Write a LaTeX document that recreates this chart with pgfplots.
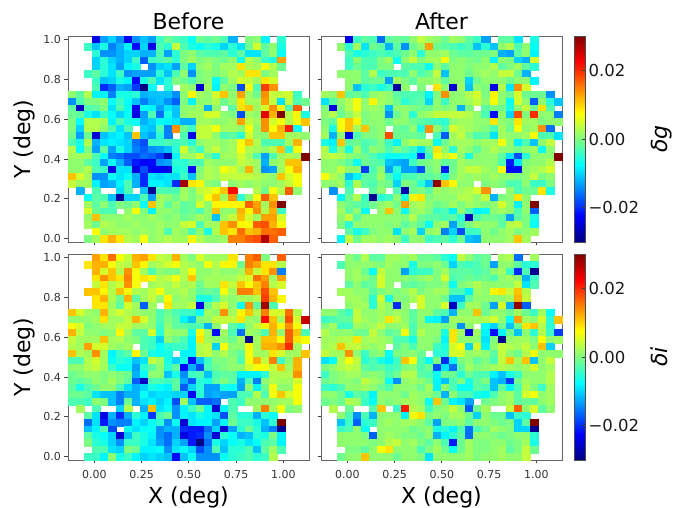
\documentclass[border=0pt]{standalone}
\usepackage{pgfplots}
\usepackage{pgfplotstable}
\usepackage{fontspec}
\setmainfont{DejaVu Sans}
\pgfplotsset{compat=1.18}
\pgfplotstableread[header=false]{
99 99 99 -24 -13 -10 -14 -23 -14 -11 -13 -4 -1 -3 -4 -7 -1 -2 -1 -3 -12 99 0 1 -8 99 -5 99 99 99
99 99 -4 -11 -6 -15 -12 -8 -22 -10 -24 -3 -5 4 -3 -6 -7 -5 -6 -10 -5 -9 -1 5 -2 1 -6 99 99 99
99 99 99 -5 -14 -14 -12 -10 -10 -12 -12 -3 -13 -5 0 1 -2 -3 -3 -2 -5 -2 -9 -9 -2 1 -7 99 99 99
99 99 99 -10 -5 -10 -12 -10 -4 -17 -4 -3 -2 -5 0 2 0 1 0 -1 1 -7 3 1 -4 -6 13 99 99 99
99 99 99 -10 -5 -9 -13 -8 -6 99 -14 -10 -9 -13 -2 -10 1 2 0 2 2 9 3 2 7 3 -1 99 99 99
99 99 -4 -2 -5 -9 -4 -14 -13 -13 -13 -5 -11 -3 1 -14 0 1 0 1 3 2 9 9 0 2 99 99 99 99
99 99 99 -4 -11 -10 -6 -8 -22 -6 -3 -9 -5 0 -1 -3 0 1 -7 -2 2 5 4 2 9 5 99 99 99 99
99 99 99 -3 -20 -17 -12 -13 -19 -30 -7 99 -5 99 2 1 -25 2 -8 1 0 -18 7 -3 19 14 99 99 99 99
1 -2 3 -8 -8 -15 -6 -6 -5 -12 -11 -11 -11 -14 1 8 2 1 5 11 1 13 2 -1 14 4 4 5 -4 99
-14 -3 0 0 1 -7 -4 -7 -11 -15 -12 -11 -14 -17 0 -8 1 1 3 -1 1 9 2 2 13 4 -9 4 -3 -1
-2 -26 -3 -2 0 -9 -3 -7 -23 -7 -8 -13 -9 -11 1 1 2 -12 1 99 -2 9 11 2 5 14 8 -3 17 99
-1 -2 -6 -9 -4 -7 -10 -7 -24 -13 -3 -16 -6 -11 1 2 2 5 5 1 0 -18 2 1 24 12 30 3 8 -6
0 -7 3 3 2 -8 -3 -6 -7 -12 -10 -7 -8 -9 -12 -12 2 2 1 1 2 13 4 2 14 5 7 3 7 11
0 -10 3 3 1 -3 -9 -3 99 -10 -11 -3 -15 14 -1 -4 4 4 7 2 2 1 7 1 14 7 12 21 -7 99
-1 -13 -1 -25 -11 -9 -8 -11 11 -11 -13 -5 -15 99 -3 -24 4 4 1 -3 -2 -5 5 1 1 11 11 2 2 1
-3 -6 3 -12 -9 -8 -9 -10 -16 -18 -4 -4 -3 -4 -3 -5 1 2 2 1 2 7 11 3 -3 -3 -3 2 12 99
3 -7 0 -13 -2 -13 -6 -10 -15 -17 -14 -13 -11 -5 5 -1 -4 2 4 1 2 7 3 2 1 3 11 -5 7 99
2 2 2 -3 -7 -15 -16 -18 -18 -16 -17 -19 -27 -8 2 2 5 -1 -5 2 2 5 2 -3 -13 -3 2 3 2 30
1 1 -2 -4 -13 -7 -12 -17 -21 -23 -22 -14 -13 -5 -5 -3 -3 2 1 1 1 4 3 2 -12 1 2 11 11 99
1 1 3 -3 -4 -24 -9 -9 -24 -18 -23 -23 -24 -6 -5 -22 0 3 2 7 5 2 12 2 -14 -13 2 7 12 99
11 5 2 -14 -14 -7 -9 -7 -12 -20 -9 -10 -9 -9 -4 -11 1 3 2 4 4 4 4 3 2 1 11 5 7 99
4 2 2 -8 -13 -12 -8 -3 -12 -20 -8 -8 -9 -20 28 9 8 1 0 99 1 2 1 2 1 1 2 4 7 99
99 -12 99 -3 99 99 -9 -3 99 -11 -29 -3 -3 -3 2 0 4 5 7 11 22 99 99 3 -1 7 3 17 1 99
99 99 -7 -2 -3 -11 -28 -10 -10 -3 -13 2 1 -1 2 0 2 7 11 2 14 -5 1 7 17 11 99 99 99 99
99 99 2 -2 1 -3 0 -1 1 -7 11 2 -2 1 -2 -1 5 1 8 8 8 8 17 13 2 14 30 99 99 99
99 99 5 -1 -3 -3 99 1 7 0 -8 1 1 0 -2 -1 -3 1 11 1 1 12 8 14 3 12 -4 99 99 99
99 99 1 11 1 1 1 2 1 1 2 1 0 1 -1 0 2 1 -11 2 4 11 5 2 13 13 5 99 99 99
99 99 2 -1 3 2 1 1 2 1 1 2 1 1 4 5 -3 2 2 11 14 8 7 17 18 12 7 99 99 99
99 99 99 7 1 2 2 2 1 2 1 2 -3 2 1 -3 1 -6 3 11 9 16 11 12 16 16 17 99 99 99
99 99 0 2 9 12 9 3 2 7 1 2 3 2 2 8 3 1 1 2 15 15 17 18 27 17 99 99 99 99
}\gb
\pgfplotstableread[header=false]{
99 99 99 -24 -4 -2 -3 -16 -2 -1 -2 1 4 2 1 -1 2 1 -2 -4 -13 99 -2 -2 -9 99 -6 99 99 99
99 99 1 -5 2 -9 -1 -2 -12 -2 -14 -1 1 13 -1 -2 -3 -4 -3 -11 -5 -11 1 3 -3 1 -7 99 99 99
99 99 99 -3 -6 -5 -4 -3 -4 -3 -1 1 -5 1 1 2 -1 -2 -2 -1 -1 0 -12 -13 -2 1 -8 99 99 99
99 99 99 -4 1 -3 -3 0 2 -7 1 4 0 2 2 7 0 1 0 -1 1 -8 1 0 -10 -12 5 99 99 99
99 99 99 -4 -1 -3 -3 0 0 99 -2 -3 -3 -7 1 -2 1 1 0 1 1 3 -2 0 2 -2 -5 99 99 99
99 99 1 1 1 -2 3 -4 -3 -3 -3 1 -3 -1 4 -11 1 1 -1 1 2 1 4 4 -1 -12 99 99 99 99
99 99 99 1 1 -2 -1 -1 -13 2 0 -2 1 1 2 -2 1 1 -10 -1 1 1 1 -1 1 1 -8 99 99 99
99 99 99 1 -11 -5 -4 -6 -4 -28 1 99 0 99 9 1 -25 2 -11 1 0 -24 3 -9 14 5 99 99 99 99
2 1 11 -2 -1 -3 1 2 1 -2 -3 -3 -3 -8 0 14 1 1 3 5 0 8 1 -1 5 -1 -1 -1 -14 99
-9 -2 1 3 7 1 8 2 1 -1 -5 -3 -2 -10 1 -4 1 1 2 4 1 7 1 -7 5 1 -17 1 -5 -11
0 -24 0 3 7 1 2 1 -11 1 1 0 -1 -1 1 0 1 -12 0 99 -2 0 -1 -6 1 4 -1 9 -3 99
1 3 -1 1 4 0 1 1 -14 -1 1 -5 1 2 4 4 4 4 3 1 -3 -22 1 -10 18 0 20 1 1 -15
0 -2 7 11 8 0 1 1 -1 1 1 -1 -2 -3 -4 -5 1 2 2 1 1 9 1 0 9 2 2 0 1 1
1 -6 7 11 2 11 0 1 99 -1 -2 1 -6 14 1 -3 5 3 2 1 0 -3 2 -1 7 1 2 14 -16 99
2 -12 1 -24 -3 0 0 1 18 -1 -1 -1 -2 99 -3 -17 2 4 0 -3 -2 -9 2 1 1 2 7 -3 -3 -9
-6 -8 11 -2 -1 -3 -2 0 -4 -8 1 3 2 2 -7 -1 2 2 2 1 2 2 7 1 -8 -3 -11 1 4 99
3 -6 1 -6 2 -3 1 0 -3 0 -2 -4 -9 -2 9 1 -5 2 1 -2 1 3 1 1 -1 1 2 -7 1 99
3 4 3 1 0 -1 -3 -5 -7 -7 -6 -7 -20 -4 7 4 7 1 -6 1 1 1 -2 -9 -18 -5 1 1 1 30
1 1 0 -2 -7 -1 -2 -3 -11 -12 -13 -4 -1 0 1 -2 -1 2 1 1 1 1 -3 -21 -9 0 1 1 3 99
1 1 4 1 1 -19 -3 1 -13 -5 -13 -13 -18 -1 1 -21 -1 2 4 4 2 1 7 -22 -22 1 2 3 5 99
7 3 1 -11 -8 -2 -2 2 -3 -7 -3 -3 -2 -2 -1 -5 0 2 1 2 1 2 1 1 0 1 4 0 1 99
1 1 2 -5 3 -2 -3 0 -1 -10 0 -1 -5 -11 29 11 8 1 1 99 0 1 0 -3 -3 1 -4 -4 0 99
99 -14 99 -3 99 99 -2 1 99 -3 -27 -1 0 -2 2 1 2 2 3 5 14 99 99 1 -3 -1 -1 9 -6 99
99 99 -8 -1 3 -4 -29 -5 -4 1 -6 8 9 0 1 1 1 3 3 1 4 -12 0 1 9 1 99 99 99 99
99 99 1 -1 -2 -3 -1 1 2 -1 13 2 3 1 -1 0 2 0 2 1 0 1 5 1 -8 1 30 99 99 99
99 99 2 -2 1 -7 99 1 11 1 -7 1 2 0 -4 -3 -8 1 -3 -8 -7 1 2 1 -3 1 -17 99 99 99
99 99 1 4 -2 1 1 1 1 1 0 3 -1 -2 -2 -3 -2 -5 -26 -3 -1 -1 -2 -13 -2 0 -6 99 99 99
99 99 0 -5 1 1 1 1 0 1 -2 0 -2 -7 1 2 -13 -3 0 2 1 1 -2 3 4 0 -7 99 99 99
99 99 99 -2 -6 -4 0 1 1 -9 1 2 -10 1 2 -15 -10 -18 -4 -4 1 -1 1 2 0 1 2 99 99 99
99 99 -8 4 -1 2 2 1 2 1 -4 1 1 -4 -3 -2 -5 -1 -11 -12 1 1 1 2 11 2 99 99 99 99
}\ga
\pgfplotstableread[header=false]{
99 99 99 13 9 16 7 4 12 13 9 4 3 12 2 0 5 2 2 2 9 99 15 17 0 99 17 99 99 99
99 99 9 12 12 7 4 3 11 8 2 3 5 7 3 2 1 7 3 8 8 -1 15 13 9 9 3 99 99 99
99 99 99 12 5 11 3 14 7 2 -3 1 0 0 3 7 1 1 2 1 1 2 12 4 9 14 -15 99 99 99
99 99 99 9 14 11 9 15 7 9 8 3 4 7 3 11 1 2 2 2 2 4 5 16 13 2 13 99 99 99
99 99 99 4 9 3 5 14 7 99 2 3 2 4 2 3 -1 2 2 9 4 11 7 11 15 3 5 99 99 99
99 99 11 11 8 3 11 7 3 2 4 7 2 2 3 1 -2 -1 -2 7 2 15 15 11 18 11 99 99 99 99
99 99 99 9 12 3 -1 12 -2 2 4 1 8 1 2 1 -6 -6 -3 2 1 2 2 3 19 12 8 99 99 99
99 99 99 9 9 2 -2 5 2 -17 2 99 9 2 2 4 -24 -1 3 5 1 -7 14 -2 28 -3 99 99 99 99
11 5 2 1 12 3 5 3 2 1 1 -3 -1 -3 -4 -4 -7 2 1 14 2 8 11 3 15 5 5 16 3 99
1 1 1 2 9 2 2 4 12 5 1 -3 0 -2 -8 -11 0 1 4 4 4 9 2 1 22 11 2 18 5 26
7 5 0 1 2 2 4 4 2 2 1 -4 1 -2 -2 -3 -3 -12 1 99 -2 -5 1 4 8 12 8 14 7 99
12 4 1 1 0 1 8 2 -2 -2 5 -5 2 1 1 -6 8 2 -22 2 -3 -16 2 1 -3 12 1 17 11 -3
4 2 2 2 11 2 3 1 0 -3 -4 -10 1 -1 -3 -8 9 2 1 1 -1 2 -29 2 11 11 7 17 9 7
3 2 13 5 5 2 1 2 99 -3 -4 -7 -5 -4 -4 -8 3 4 -10 7 1 1 8 2 12 12 14 20 2 99
11 3 2 14 2 -8 -4 -2 8 -1 -6 -7 -6 99 -8 -8 3 4 1 3 0 -2 7 2 2 9 5 2 2 11
-3 -3 3 5 2 -7 -5 -6 -11 -9 4 2 -6 -10 -6 -22 -11 -4 0 0 1 -3 7 12 4 15 -4 1 12 99
1 1 3 4 2 -4 -7 -7 -13 -5 -2 1 -5 -2 -22 -12 -18 -3 -1 0 1 1 5 7 7 4 11 2 12 99
-1 0 1 1 0 1 0 -1 -12 -7 1 1 -11 -6 -14 -4 -3 -11 -3 -2 -2 -8 -8 -8 -5 3 3 3 14 99
-1 -2 -1 1 0 2 0 -2 -17 -26 -3 -3 -4 -2 -12 -17 -5 -6 -2 0 -2 -12 -3 -15 1 3 2 2 5 99
-2 -6 -3 -1 1 1 -3 -9 -12 -10 -6 -7 -8 -2 -17 -10 -5 -13 -13 -6 -7 -13 1 -8 -1 7 1 1 7 99
-1 -1 -2 -9 -11 -11 -15 -12 -12 -7 -10 -9 -9 -10 -10 -23 -5 -13 -12 -13 -13 -3 -3 3 -3 7 11 5 7 99
-3 -3 -4 1 0 -11 -15 -1 -12 -9 -8 -10 -8 -18 2 -11 -17 -17 -16 99 -3 -4 1 1 1 1 2 2 7 99
99 2 99 -3 99 99 -10 3 99 -12 11 -9 -7 -14 -8 -4 -1 -8 -25 -8 -3 99 99 2 15 2 7 0 1 99
99 99 -2 -9 -24 -12 -20 -12 -5 -8 -19 -3 -1 -14 -8 -9 -6 -8 -9 -18 -2 -5 -5 -12 -5 -7 99 99 99 99
99 99 -16 -9 -21 -14 -15 -15 -8 -10 -7 -5 -14 -7 -25 -9 -8 -8 -13 -8 -1 -4 -4 -6 -11 -5 30 99 99 99
99 99 -11 -8 -3 -18 99 -7 -9 -7 -7 -14 -12 -12 -20 -21 -21 -16 -10 -25 -13 -5 -1 -5 -12 -15 -29 99 99 99
99 99 -2 -6 -7 -10 -25 -11 -4 -6 -8 -14 -16 -12 -24 -21 -20 -14 -25 -5 -7 -12 -11 -5 -6 0 -8 99 99 99
99 99 0 -5 -6 -10 -14 -4 -4 -6 -9 -13 -16 -10 -13 -21 -30 -16 -6 -10 -7 -6 -9 -7 -3 -2 -8 99 99 99
99 99 99 -3 -3 -9 -10 0 -1 -8 -8 -7 -14 -9 -7 -10 -18 -14 -3 -11 -5 -5 -3 -11 -2 2 -3 99 99 99
99 99 -4 -4 -8 1 -6 -4 -8 -10 -9 -10 -11 -22 -11 -7 -14 -14 -14 -7 -5 -4 -3 -5 -4 3 99 99 99 99
}\ib
\pgfplotstableread[header=false]{
99 99 99 1 -1 3 -2 -2 2 2 1 2 -1 -1 -2 -5 -7 4 1 -2 -1 99 2 3 -16 99 2 99 99 99
99 99 -3 1 1 1 1 0 2 1 1 -6 0 0 1 -1 -10 -3 -4 -3 -1 -13 1 1 -2 -5 -5 99 99 99
99 99 99 1 2 -1 -7 4 1 1 -13 -5 -4 -4 0 2 -2 -2 -2 -3 -2 1 2 -4 -20 -3 -29 99 99 99
99 99 99 1 2 1 -1 5 1 1 1 0 1 2 0 5 -3 -2 -1 -2 -1 -3 1 2 1 -12 -4 99 99 99
99 99 99 -2 1 -2 -1 5 1 99 -1 -2 -1 0 0 1 -7 0 1 3 1 1 1 1 4 -9 -3 99 99 99
99 99 2 2 1 1 -2 0 1 0 1 3 0 1 2 2 -3 -3 -8 2 1 8 9 4 11 3 99 99 99 99
99 99 99 2 2 1 -5 5 -6 1 0 2 5 1 1 -1 -11 -11 -2 1 1 1 1 2 12 4 99 99 99 99
99 99 99 1 2 2 -5 3 1 -20 1 99 5 1 1 5 -26 -4 2 2 -1 -13 5 -12 29 -17 99 99 99 99
1 1 -2 -4 4 1 1 2 1 2 1 -2 1 1 -2 -3 -12 1 1 11 -1 1 1 -1 2 -1 -4 2 -7 99
-4 -3 -2 -2 4 2 1 2 9 4 1 -2 1 -7 -8 -13 2 2 2 2 3 5 1 -7 13 2 1 5 -5 11
0 2 -4 -4 2 1 2 4 1 1 2 -3 1 1 1 0 1 -14 1 99 -7 -10 -1 -11 -1 9 11 3 -5 99
3 1 1 1 -1 -1 4 1 -2 -1 7 -3 3 1 1 -6 9 2 -24 2 -8 -22 -8 -1 -11 1 -5 3 -4 -19
2 2 3 3 9 2 3 2 1 -3 -3 -6 1 1 0 -8 9 1 1 1 -9 0 -29 1 2 2 0 7 1 2
2 3 11 4 4 2 1 2 99 -2 0 -3 1 1 -4 -6 5 7 -10 5 -8 1 4 3 2 4 1 11 -10 99
4 2 2 14 1 -4 0 1 -7 0 0 1 -1 99 -5 -5 5 5 1 2 1 -2 4 1 -1 3 7 1 1 1
-9 -7 3 7 4 -5 -3 -6 -8 -4 11 7 -3 -7 0 -20 -8 0 1 -2 0 -3 4 11 2 11 -11 1 4 99
0 1 3 4 3 -2 -3 -2 -4 -3 0 1 -3 -1 -18 -9 -16 -2 2 0 1 2 3 2 1 2 5 1 2 99
-4 0 1 2 2 0 1 0 -3 -1 3 3 -2 -3 -7 -1 -1 -5 -1 -3 -3 -8 -11 -6 -4 1 1 1 3 99
-1 0 1 1 0 4 2 1 -7 -14 1 2 1 -1 -8 -11 -3 0 -6 -2 0 -11 -12 -19 -1 2 1 1 3 99
-4 -5 -3 1 1 2 1 -1 -3 1 1 1 -1 2 -8 1 -3 -7 -7 -2 -3 -11 -2 -8 -3 3 0 -4 2 99
1 1 -1 -6 -2 -3 -8 1 1 1 -1 2 1 1 -1 -12 1 -3 -3 -6 -7 -3 1 2 -2 5 7 1 2 99
-1 0 -1 3 2 -4 -7 1 0 1 2 2 1 -7 11 -1 -8 -9 -13 99 -1 0 1 2 -2 -1 -2 1 2 99
99 3 99 -1 99 99 -3 11 99 -4 21 3 2 -4 0 1 4 1 -17 -1 2 99 99 4 17 1 5 -2 1 99
99 99 1 -3 -14 -3 -12 1 1 1 -8 7 9 0 1 0 2 2 -1 -10 1 -1 -1 -11 -4 -5 99 99 99 99
99 99 -11 -4 -17 -5 -4 1 2 1 2 2 1 -2 -13 0 0 1 -2 1 1 0 -1 0 -10 -2 30 99 99 99
99 99 -4 -3 1 -7 99 1 1 1 1 -1 0 1 -6 -5 -8 -3 -16 -3 -1 2 1 0 -10 -10 -29 99 99 99
99 99 1 1 1 0 -17 1 2 1 0 0 -1 1 -12 -8 -5 -2 -16 1 1 0 -1 0 1 1 -5 99 99 99
99 99 1 1 1 1 0 1 3 4 1 2 0 -2 1 -3 -21 -1 2 0 0 1 1 -1 0 2 -6 99 99 99
99 99 99 0 0 -2 1 7 9 1 1 1 -3 0 2 -1 -7 -1 2 0 0 1 2 -2 0 4 -1 99 99 99
99 99 -1 1 1 11 1 1 1 -1 1 1 0 -9 1 1 1 1 2 0 1 1 2 1 1 4 99 99 99 99
}\ia
\pgfplotsset{
 panel/.style={scale only axis,width=241pt,height=206pt,
  xmin=-0.14,xmax=1.136,ymin=-0.017,ymax=1.019,
  xtick={0,0.25,0.5,0.75,1},ytick={0,0.2,0.4,0.6,0.8,1},
  xtick pos=bottom,ytick pos=left,tick align=outside,
  major tick length=3.5pt,
  tick style={black!75,line width=0.8pt},
  axis line style={black!60,line width=0.8pt},
  colormap/jet,point meta min=-30,point meta max=30,
  tick label style={font=\fontsize{11}{11}\selectfont,text=black!80},
  xticklabel style={yshift=-3pt},
  label style={font=\fontsize{22}{22}\selectfont},
  title style={font=\fontsize{22}{22}\selectfont,yshift=-3pt},
  xticklabels={},yticklabels={}},
 xl/.style={xticklabels={0.00,0.25,0.50,0.75,1.00},xlabel={X (deg)},xlabel style={yshift=-2pt}},
 yl/.style={yticklabels={0.0,0.2,0.4,0.6,0.8,1.0},ylabel={Y (deg)},ylabel style={yshift=2pt}},
 cb/.style={colorbar,colorbar style={at={(1.0498,0)},anchor=south west,width=11pt,height=206pt,
   ytick={-20,0,20},yticklabels={−0.02,0.00,0.02},ytick pos=right,yticklabel pos=right,
   tick label style={font=\fontsize{16.5}{16.5}\selectfont,text=black!90},
   major tick length=3.5pt,
   ylabel={#1},ylabel style={font=\fontsize{22}{22}\selectfont\itshape,rotate=0,yshift=-5pt},
   axis line style={black!70,line width=0.8pt}}},
}
\newcommand{\cells}[1]{\pgfplotsinvokeforeach{0,...,29}{%
  \addplot[scatter,only marks,mark=square*,mark size=4.02pt,point meta=explicit,
    mark options={yscale=0.862},
    scatter/use mapped color={draw=mapped color,fill=mapped color,line width=0.1pt},
    ] table[x expr={-0.14+0.0425*(##1+0.5)},
     y expr={ifthenelse(\thisrowno{##1}>50,9,1.019-0.03453*(\coordindex+0.5))},
     meta index=##1]{#1};}}
\begin{document}
\begin{tikzpicture}
\useasboundingbox (0pt,0pt) rectangle (673pt,508pt);
\begin{axis}[panel,yl,at={(68pt,266pt)},anchor=south west,title={Before}]
\cells{\gb}
\end{axis}
\begin{axis}[panel,at={(321pt,266pt)},anchor=south west,title={After},cb={δg}]
\cells{\ga}
\end{axis}
\begin{axis}[panel,xl,yl,at={(68pt,48pt)},anchor=south west]
\cells{\ib}
\end{axis}
\begin{axis}[panel,xl,at={(321pt,48pt)},anchor=south west,cb={δi}]
\cells{\ia}
\end{axis}
\end{tikzpicture}
\end{document}
